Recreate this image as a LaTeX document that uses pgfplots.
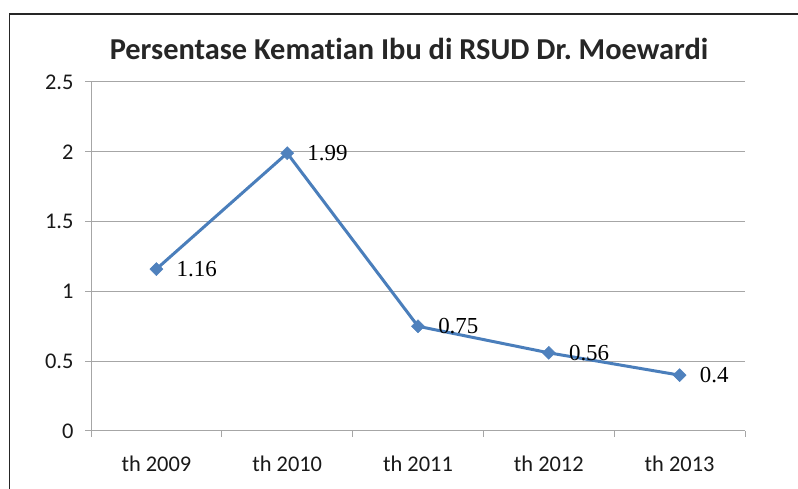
\documentclass[border=0pt]{standalone}
\usepackage{fontspec}
\setmainfont{Carlito}[Ligatures=NoCommon]
\newfontfamily\serifdata{Liberation Serif}
\usepackage{pgfplots}
\pgfplotsset{compat=1.18}
\definecolor{lineblue}{HTML}{4A7EBB}
\definecolor{markblue}{HTML}{4F81BD}
\definecolor{gridgray}{HTML}{A6A6A6}
\begin{document}
\begin{tikzpicture}[x=1bp,y=1bp]
\useasboundingbox (0,0) rectangle (798,489);
\draw[line width=1.4bp, black!85] (9.5,0) -- (9.5,475) -- (798,475);
\node[font=\bfseries\fontsize{30.5}{34}\selectfont, text=black!85] at (409,440) {Persentase Kematian Ibu di RSUD Dr.\ Moewardi};
\begin{axis}[
  at={(91bp,58bp)}, anchor=south west,
  scale only axis, width=654bp, height=349bp,
  xmin=0, xmax=5, ymin=0, ymax=2.5,
  axis x line*=bottom, axis y line*=left,
  axis line style={gridgray, line width=1bp},
  xtick={0,1,2,3,4,5}, xticklabels={},
  extra x ticks={0.5,1.5,2.5,3.5,4.5},
  extra x tick labels={th 2009,th 2010,th 2011,th 2012,th 2013},
  extra x tick style={major tick length=0pt},
  ytick={0,0.5,1,1.5,2,2.5},
  yticklabels={0,0.5,1,1.5,2,2.5},
  tick align=outside, major tick length=6bp,
  tick style={gridgray, line width=1bp},
  ymajorgrids, grid style={gridgray, line width=1bp},
  /pgf/number format/assume math mode=true,
  ticklabel style={font=\fontsize{22.5}{26}\selectfont, text=black!90},
  xticklabel style={yshift=-21bp},
  yticklabel style={xshift=-8bp},
  clip=false,
]
\addplot[lineblue, line width=3bp, mark=square*, mark size=4.6bp,
  mark options={rotate=45, fill=markblue, draw=markblue, line width=0.5bp},
  point meta=explicit symbolic,
  nodes near coords,
  nodes near coords style={anchor=west, xshift=20bp, inner sep=0pt,
    font=\serifdata\fontsize{23}{26}\selectfont, text=black}]
coordinates {
(0.5,1.16) [1.16]
(1.5,1.99) [1.99]
(2.5,0.75) [0.75]
(3.5,0.56) [0.56]
(4.5,0.4) [0.4]
};
\end{axis}
\end{tikzpicture}
\end{document}
